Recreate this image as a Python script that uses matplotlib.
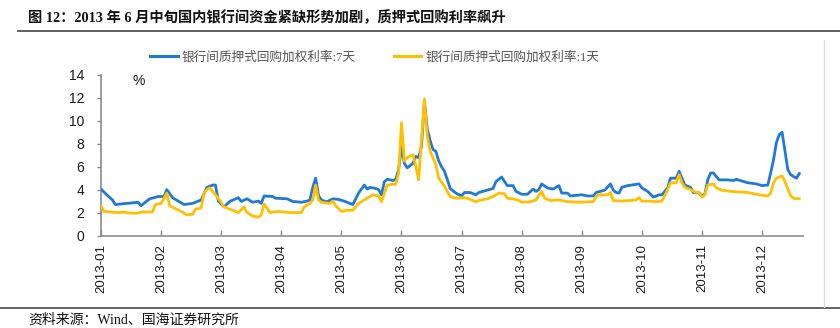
import matplotlib
matplotlib.use("Agg")
import matplotlib.pyplot as plt
from matplotlib.lines import Line2D

plt.rcParams['font.family'] = ['Liberation Sans', 'Noto Sans CJK SC']

# Trading-day index (labels every 21 trading days) and weighted repo rates (%)
seven_day_idx = [0, 2, 4, 5, 13, 14, 17, 20, 22, 23, 25, 29, 32, 35, 37, 39, 40, 41, 43,
                 45, 48, 49, 51, 53, 55, 56, 57, 60, 61, 65, 67, 70, 72, 73, 74, 75, 76,
                 77, 78, 79, 81, 83, 85, 87, 88, 90, 92, 93, 94, 96, 97, 98, 99, 100,
                 102, 103, 104, 105, 106, 107, 109, 110, 111, 112, 113, 114, 115, 116,
                 117, 118, 119, 120, 121, 122, 124, 126, 127, 129, 131, 132, 137, 138,
                 140, 141, 142, 144, 145, 147, 149, 151, 152, 153, 154, 156, 158, 160,
                 161, 163, 164, 168, 170, 172, 173, 176, 178, 179, 180, 181, 182, 184,
                 188, 189, 191, 193, 195, 196, 198, 199, 201, 202, 203, 204, 206, 207,
                 209, 210, 211, 212, 213, 214, 216, 219, 221, 222, 226, 229, 231, 233,
                 234, 235, 236, 237, 238, 239, 240, 241, 243, 244]
seven_day = [4.05, 3.55, 3.1, 2.7, 2.9, 2.6, 3.2, 3.4, 3.4, 4.0, 3.3, 2.7, 2.8, 3.1, 4.2,
             4.4, 4.4, 3.0, 2.5, 2.97, 3.3, 2.97, 3.2, 2.9, 3.0, 2.8, 3.45, 3.4, 3.25, 3.2,
             2.97, 2.9, 3.0, 3.1, 4.2, 5.0, 3.5, 3.1, 3.0, 2.95, 3.2, 3.15, 3.0, 2.8, 2.7,
             3.7, 4.4, 4.05, 4.2, 4.1, 4.0, 3.55, 4.7, 4.9, 4.8, 4.9, 5.75, 7.8, 6.3, 5.9,
             6.3, 6.9, 6.8, 7.8, 11.7, 9.3, 8.3, 7.5, 7.35, 6.5, 6.0, 5.6, 4.9, 4.1, 3.7,
             3.45, 3.75, 3.75, 3.55, 3.75, 4.1, 4.7, 5.1, 4.7, 4.35, 4.35, 3.85, 3.6, 3.6,
             4.05, 3.85, 4.0, 4.5, 4.15, 4.05, 4.35, 3.7, 3.7, 3.45, 3.55, 3.45, 3.45,
             3.75, 3.95, 4.5, 3.95, 3.75, 3.7, 4.2, 4.35, 4.5, 4.15, 3.85, 3.35, 3.55,
             3.55, 4.15, 5.0, 5.0, 5.6, 5.0, 4.4, 4.2, 3.75, 3.7, 3.45, 3.6, 4.85, 5.45,
             5.45, 4.85, 4.85, 4.8, 4.9, 4.6, 4.5, 4.35, 4.4, 5.45, 6.6, 8.1, 8.8, 9.0,
             7.4, 5.75, 5.3, 5.0, 5.4]

one_day_idx = [0, 1, 6, 8, 10, 13, 14, 18, 19, 21, 22, 23, 24, 28, 30, 32, 33, 35, 36, 37,
               38, 40, 42, 43, 45, 48, 50, 51, 53, 55, 56, 57, 58, 59, 62, 66, 70, 71, 73,
               74, 75, 76, 77, 80, 81, 82, 84, 86, 88, 90, 93, 95, 97, 98, 100, 103, 104,
               105, 106, 107, 109, 110, 111, 112, 113, 114, 115, 117, 118, 120, 122, 124,
               127, 128, 131, 132, 135, 137, 139, 141, 142, 144, 146, 147, 150, 152, 154,
               155, 157, 160, 163, 167, 171, 172, 173, 174, 177, 178, 179, 182, 187, 188,
               189, 192, 194, 196, 198, 199, 201, 202, 203, 204, 206, 208, 209, 210, 211,
               212, 214, 215, 217, 220, 226, 230, 233, 234, 235, 236, 237, 238, 239, 240,
               241, 242, 244]
one_day = [2.6, 2.1, 2.0, 2.05, 1.95, 1.95, 2.05, 2.05, 2.7, 2.8, 3.25, 3.7, 2.6, 2.1,
           1.8, 1.85, 2.3, 2.4, 3.7, 4.0, 4.15, 3.55, 2.9, 2.5, 2.3, 2.0, 2.5, 2.0, 1.7,
           1.6, 1.8, 2.75, 2.4, 2.0, 2.1, 2.0, 2.0, 2.5, 2.8, 3.1, 4.4, 3.1, 2.9, 2.8, 3.0,
           2.6, 2.1, 2.2, 2.2, 2.8, 3.25, 3.55, 3.45, 2.95, 4.4, 4.5, 5.45, 9.85, 6.5, 6.8,
           7.05, 6.05, 4.85, 8.4, 11.9, 8.7, 7.35, 6.2, 5.0, 4.3, 3.4, 3.25, 3.3, 3.25,
           2.95, 3.05, 3.2, 3.4, 3.7, 3.65, 3.25, 3.2, 3.05, 2.9, 2.95, 3.1, 3.85, 3.25,
           3.05, 3.1, 2.95, 2.9, 2.95, 2.95, 3.4, 3.55, 3.55, 3.75, 3.05, 3.0, 3.1, 3.3,
           3.0, 3.0, 2.95, 3.0, 4.0, 4.6, 4.6, 5.3, 4.6, 4.2, 4.0, 3.75, 3.75, 3.35, 3.55,
           4.4, 4.5, 4.15, 3.95, 3.85, 3.75, 3.55, 3.45, 3.7, 4.6, 5.0, 5.1, 5.2, 4.7,
           4.05, 3.45, 3.25, 3.2]

month_labels = ['2013-01', '2013-02', '2013-03', '2013-04', '2013-05', '2013-06',
                '2013-07', '2013-08', '2013-09', '2013-10', '2013-11', '2013-12']
label_step = 21
y_ticks = [0, 2, 4, 6, 8, 10, 12, 14]

title_text = '图 12：2013 年 6 月中旬国内银行间资金紧缺形势加剧，质押式回购利率飙升'
legend_labels = ['银行间质押式回购加权利率:7天', '银行间质押式回购加权利率:1天']
source_text = '资料来源：Wind、国海证券研究所'

BLUE = '#2079d4'
YELLOW = '#ffc000'
AXIS_GRAY = '#8c8c8c'
SERIF_CJK = ['Liberation Serif', 'Noto Sans CJK SC']

W, H = 840, 328
fig = plt.figure(figsize=(W / 100, H / 100), dpi=100)

ax = fig.add_axes([101 / W, 1 - 235.5 / H, (803 - 101) / W, (235.5 - 75) / H])
ax.plot(seven_day_idx, seven_day, color=BLUE, lw=2.0, solid_joinstyle='round', zorder=3)
ax.plot(one_day_idx, one_day, color=YELLOW, lw=2.0, solid_joinstyle='round', zorder=4)

ax.set_xlim(0, 245.3)
ax.set_ylim(0, 14)
ax.set_yticks(y_ticks)
ax.set_yticklabels([str(v) for v in y_ticks], fontsize=10, color='#1a1a1a')
ax.set_xticks([i * label_step for i in range(len(month_labels))])
ax.set_xticklabels(month_labels, rotation=90, fontsize=9.5, color='#1a1a1a')
ax.tick_params(axis='y', direction='out', length=3, width=1, color=AXIS_GRAY, pad=9)
ax.tick_params(axis='x', direction='in', length=4, width=1, color=AXIS_GRAY, pad=6)
for side in ('top', 'right'):
    ax.spines[side].set_visible(False)
for side in ('left', 'bottom'):
    ax.spines[side].set_color(AXIS_GRAY)
    ax.spines[side].set_linewidth(1.2)
ax.patch.set_alpha(0)

ax.text(0.045, 0.965, '%', transform=ax.transAxes, fontsize=10, color='#1a1a1a',
        ha='left', va='center')

handles = [Line2D([], [], color=BLUE, lw=2.2), Line2D([], [], color=YELLOW, lw=2.2)]
leg = fig.legend(handles, legend_labels, loc='center left', ncol=2, frameon=False,
                 bbox_to_anchor=(150 / W, 1 - 57 / H), borderpad=0, borderaxespad=0,
                 handlelength=2.2, handletextpad=0.3, columnspacing=3.0,
                 prop={'family': SERIF_CJK, 'size': 9.1})
for t in leg.get_texts():
    t.set_color('#555555')

fig.text(28 / W, 1 - 18 / H, title_text, fontsize=10.3, fontweight='bold',
         family=SERIF_CJK, ha='left', va='center', color='#111111')
fig.add_artist(Line2D([18 / W, 1.0], [1 - 31 / H, 1 - 31 / H], color='#555555', lw=1.3))
fig.add_artist(Line2D([0.0, 1.0], [1 - 308 / H, 1 - 308 / H], color='#555555', lw=1.3))
fig.add_artist(Line2D([824 / W, 824 / W], [1 - 40 / H, 1 - 307 / H], color='#d9d9d9', lw=1))
fig.text(28 / W, 1 - 320 / H, source_text, fontsize=10, family=SERIF_CJK,
         ha='left', va='center', color='#111111')

fig.savefig('out.png', dpi=100)
